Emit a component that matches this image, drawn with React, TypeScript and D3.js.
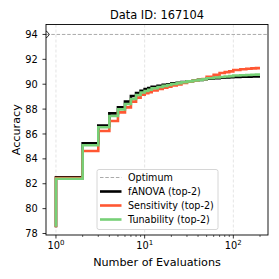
import React from "react";
import * as d3 from "d3";

const title = "Data ID: 167104";
const optimum = 94.0;
const evals = [1, 2, 3, 4, 5, 6, 7, 8, 9, 10, 11, 12, 14, 16, 18, 20, 23, 26, 30, 35, 40, 45, 50, 60, 70, 80, 90, 100, 120, 140, 160, 180, 200];
const fanova = [78.5, 82.52, 85.25, 86.67, 87.66, 88.14, 88.6, 89.05, 89.29, 89.48, 89.62, 89.7, 89.8, 89.88, 89.95, 90.0, 90.07, 90.12, 90.18, 90.24, 90.3, 90.35, 90.4, 90.45, 90.49, 90.52, 90.54, 90.56, 90.59, 90.6, 90.61, 90.62, 90.63];
const sensitivity = [78.5, 82.45, 84.63, 86.24, 87.04, 87.74, 88.14, 88.6, 88.92, 89.16, 89.27, 89.36, 89.5, 89.62, 89.72, 89.8, 89.9, 89.99, 90.1, 90.2, 90.29, 90.36, 90.42, 90.6, 90.75, 90.9, 90.97, 91.03, 91.14, 91.2, 91.24, 91.27, 91.29];
const tunability = [78.54, 82.4, 85.09, 86.54, 87.45, 87.98, 88.41, 88.81, 89.13, 89.33, 89.45, 89.55, 89.68, 89.78, 89.87, 89.94, 90.02, 90.09, 90.16, 90.23, 90.3, 90.35, 90.4, 90.48, 90.54, 90.58, 90.62, 90.65, 90.7, 90.72, 90.74, 90.76, 90.77];
const seriesNames = ["fANOVA (top-2)", "Sensitivity (top-2)", "Tunability (top-2)"];
const yTicks = [78, 80, 82, 84, 86, 88, 90, 92, 94];
const xMajor = [1, 10, 100];
const xMinor = [2, 3, 4, 5, 6, 7, 8, 9, 20, 30, 40, 50, 60, 70, 80, 90, 200];

const colors = ["#000000", "#ff5733", "#77d077"];
const font = "DejaVu Sans, sans-serif";

export default function App() {
  const L = 46, R = 268, T = 24.5, B = 235;
  const x = d3.scaleLog().domain([0.772, 246]).range([L, R]);
  const y = d3.scaleLinear().domain([77.88, 94.8]).range([B, T]);
  const series = [fanova, sensitivity, tunability];
  const line = d3
    .line<[number, number]>()
    .x((d) => x(d[0]))
    .y((d) => y(d[1]))
    .curve(d3.curveStepBefore);

  const yo = y(optimum);
  const legendX = 97, legendY = 169.5, legendW = 121, legendH = 60;
  const rowY = [177.5, 191.5, 205.5, 219.5];

  return (
    <svg width={279} height={279} style={{ position: "absolute", left: 0, top: 0, background: "#fff" }} fontFamily={font}>
      <defs>
        <clipPath id="plot">
          <rect x={L} y={T} width={R - L} height={B - T} />
        </clipPath>
      </defs>
      {xMajor.map((t) => (
        <line key={"g" + t} x1={x(t)} x2={x(t)} y1={T} y2={B} stroke="#dddddd" strokeWidth={0.8} strokeDasharray="3,2" />
      ))}
      <line x1={L} x2={R} y1={yo} y2={yo} stroke="#aaaaaa" strokeWidth={1} strokeDasharray="3.5,1.8" />
      <g clipPath="url(#plot)">
        {series.map((s, i) => (
          <path
            key={i}
            d={line(evals.map((e, j) => [e, s[j]] as [number, number])) || ""}
            fill="none"
            stroke={colors[i]}
            strokeWidth={2.6}
            strokeLinejoin="miter"
          />
        ))}
      </g>
      <path d={`M${L},${yo - 3.5} Q${L + 2.5},${yo - 2} ${L + 3.2},${yo} Q${L + 2.5},${yo + 2} ${L},${yo + 3.5}`} fill="none" stroke="#000" strokeWidth={0.8} />
      <rect x={L} y={T} width={R - L} height={B - T} fill="none" stroke="#000" strokeWidth={0.9} />
      {yTicks.map((t) => (
        <g key={"y" + t}>
          <line x1={L - 3.5} x2={L} y1={y(t)} y2={y(t)} stroke="#000" strokeWidth={0.8} />
          <text x={L - 8.3} y={y(t)} dy="0.36em" textAnchor="end" fontSize={9.8}>
            {t}
          </text>
        </g>
      ))}
      {xMajor.map((t) => (
        <g key={"x" + t}>
          <line x1={x(t)} x2={x(t)} y1={B} y2={B + 3.5} stroke="#000" strokeWidth={0.8} />
          <text x={x(t)} y={249.3} textAnchor="middle" fontSize={9.8}>
            10
            <tspan fontSize={7} dy={-4.5}>
              {Math.round(Math.log10(t))}
            </tspan>
          </text>
        </g>
      ))}
      {xMinor.map((t) => (
        <line key={"m" + t} x1={x(t)} x2={x(t)} y1={B} y2={B + 2} stroke="#000" strokeWidth={0.6} />
      ))}
      <text x={(L + R) / 2} y={265.5} textAnchor="middle" fontSize={11.2}>
        Number of Evaluations
      </text>
      <text transform={`translate(20,${(T + B) / 2}) rotate(-90)`} textAnchor="middle" fontSize={11.2}>
        Accuracy
      </text>
      <text x={(L + R) / 2} y={19.3} textAnchor="middle" fontSize={11.4}>
        {title}
      </text>
      <rect x={legendX} y={legendY} width={legendW} height={legendH} rx={2} fill="#fff" fillOpacity={0.8} stroke="#cccccc" strokeWidth={0.8} />
      <line x1={100} x2={121.5} y1={rowY[0]} y2={rowY[0]} stroke="#aaaaaa" strokeWidth={1} strokeDasharray="3.5,1.8" />
      <text x={128} y={rowY[0]} dy="0.36em" fontSize={9.6} fill="#000">
        Optimum
      </text>
      {seriesNames.map((n, i) => (
        <g key={n}>
          <line x1={100} x2={121.5} y1={rowY[i + 1]} y2={rowY[i + 1]} stroke={colors[i]} strokeWidth={2.6} />
          <text x={128} y={rowY[i + 1]} dy="0.36em" fontSize={9.6}>
            {n}
          </text>
        </g>
      ))}
    </svg>
  );
}
